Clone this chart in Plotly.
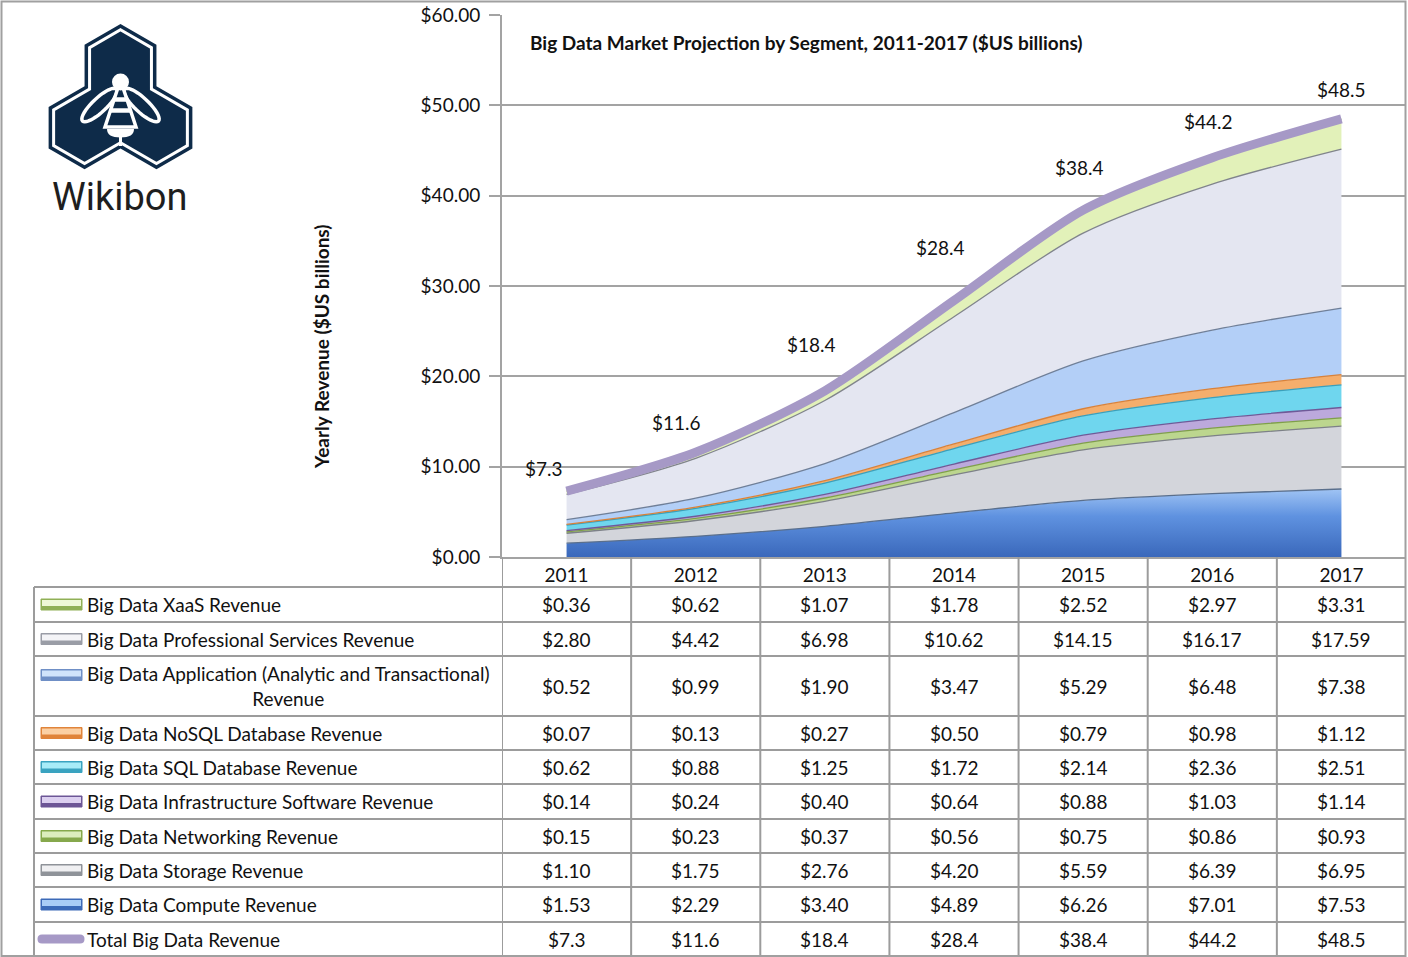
import numpy as np
import plotly.graph_objects as go

W, H = 1408, 957

# ---------------- data ----------------
years = ["2011", "2012", "2013", "2014", "2015", "2016", "2017"]

compute = [1.53, 2.29, 3.40, 4.89, 6.26, 7.01, 7.53]
storage = [1.10, 1.75, 2.76, 4.20, 5.59, 6.39, 6.95]
networking = [0.15, 0.23, 0.37, 0.56, 0.75, 0.86, 0.93]
infra_software = [0.14, 0.24, 0.40, 0.64, 0.88, 1.03, 1.14]
sql_db = [0.62, 0.88, 1.25, 1.72, 2.14, 2.36, 2.51]
nosql_db = [0.07, 0.13, 0.27, 0.50, 0.79, 0.98, 1.12]
application = [0.52, 0.99, 1.90, 3.47, 5.29, 6.48, 7.38]
prof_services = [2.80, 4.42, 6.98, 10.62, 14.15, 16.17, 17.59]
xaas = [0.36, 0.62, 1.07, 1.78, 2.52, 2.97, 3.31]
total = [7.3, 11.6, 18.4, 28.4, 38.4, 44.2, 48.5]

name_compute = "Big Data Compute Revenue"
name_storage = "Big Data Storage Revenue"
name_networking = "Big Data Networking Revenue"
name_infra = "Big Data Infrastructure Software Revenue"
name_sql = "Big Data SQL Database Revenue"
name_nosql = "Big Data NoSQL Database Revenue"
name_app = "Big Data Application (Analytic and Transactional)<br>Revenue"
name_prof = "Big Data Professional Services Revenue"
name_xaas = "Big Data XaaS Revenue"
name_total = "Total Big Data Revenue"

title_text = "Big Data Market Projection by Segment, 2011-2017 (&#36;US billions)"
ytitle_text = "Yearly Revenue (&#36;US billions)"
y_ticks = [0, 10, 20, 30, 40, 50, 60]
DOLLAR = "&#36;"

# ---------------- styles ----------------
FONT = "Lato"
FS = 19
TXT = "#111111"
GRID = "#a3a3a3"
NAVY = "#0e2b49"
TOTAL_COL = "#a699c6"

# (name, values, fill, edge, swatch light, swatch dark)
stack = [
    (name_compute, compute, "#5f92e0", "#5a6f8c", "#a9cdf6", "#3c6bb8"),
    (name_storage, storage, "#d3d5db", "#7d8188", "#f0f0f2", "#8f9399"),
    (name_networking, networking, "#bcd68e", "#7f9f4a", "#dcedbd", "#86a84c"),
    (name_infra, infra_software, "#bca9dc", "#6f5a98", "#dcd0f0", "#6d5696"),
    (name_sql, sql_db, "#6fd6ee", "#3b9fba", "#a8ecf8", "#3aa3c0"),
    (name_nosql, nosql_db, "#f5ae6c", "#d9823a", "#fbd0a4", "#e0843a"),
    (name_app, application, "#b3cff7", "#6f7f98", "#d0e3fb", "#6f8fc6"),
    (name_prof, prof_services, "#e4e6f1", "#80848c", "#f4f4f7", "#9a9da6"),
    (name_xaas, xaas, "#e2f1b9", "#8ea856", "#eef8d6", "#90b056"),
]

# plot-area geometry in pixels
PX0, PX1 = 502, 1406
PY0, PY1 = 15, 557


def px(x):
    return x / W


def py(y):
    return 1 - y / H


fig = go.Figure()

for i, (name, vals, fill, edge, _, _) in enumerate(stack):
    kw = {}
    if i == 0:
        kw["fillgradient"] = dict(type="vertical",
                                  colorscale=[[0, "#3a68bb"], [0.6, "#5f92e0"], [1, "#a0c4f4"]])
    fig.add_trace(go.Scatter(
        x=years, y=vals, name=name.replace("<br>", " "), stackgroup="seg",
        mode="lines", line=dict(shape="spline", smoothing=0.8, width=1.3, color=edge),
        fillcolor=fill, hoverinfo="skip", showlegend=False, **kw,
    ))

fig.add_trace(go.Scatter(
    x=years, y=total, name=name_total, mode="lines",
    line=dict(shape="spline", smoothing=0.8, width=9, color=TOTAL_COL),
    hoverinfo="skip", showlegend=False,
))

shapes = []
annotations = []

# total labels (offsets are styling); category axis positions are serial indexes
label_offsets = [(-23, 23), (-19, 30), (-13, 46), (-14, 53), (-4, 43), (-4, 36), (0, 29)]
for j, (v, (dx, dy)) in enumerate(zip(total, label_offsets)):
    annotations.append(dict(x=j, y=v, xref="x", yref="y", text=f"{DOLLAR}{v:.1f}",
                            showarrow=False, xshift=dx, yshift=dy, xanchor="center",
                            yanchor="middle", font=dict(family=FONT, size=FS, color=TXT)))

# chart title & y title
annotations.append(dict(x=px(528), y=py(43), xref="paper", yref="paper", xanchor="left",
                        yanchor="middle", showarrow=False, text=f"<b>{title_text}</b>",
                        font=dict(family=FONT, size=FS, color=TXT)))
annotations.append(dict(x=px(322), y=py(347), xref="paper", yref="paper", textangle=-90,
                        xanchor="center", yanchor="middle", showarrow=False,
                        text=f"<b>{ytitle_text}</b>", font=dict(family=FONT, size=FS, color=TXT)))

# ---------------- data table ----------------
row_edges = [587, 622, 656, 716, 750, 784, 819, 853, 887, 922, 956]
table_rows = list(reversed(stack))  # XaaS at top ... Compute at bottom
LINE = dict(color="#9c9c9c", width=2)

for ye in row_edges:
    shapes.append(dict(type="line", xref="paper", yref="paper", x0=px(34), x1=px(PX1),
                       y0=py(ye), y1=py(ye), line=LINE, layer="above"))
shapes.append(dict(type="line", xref="paper", yref="paper", x0=px(34), x1=px(34),
                   y0=py(587), y1=py(956), line=LINE, layer="above"))
for k in range(len(years) + 1):
    shapes.append(dict(type="line", xref="x", yref="paper", x0=k - 0.5, x1=k - 0.5,
                       y0=py(PY1), y1=py(956), line=LINE, layer="above"))

for r, (name, vals, fill, edge, sl, sd) in enumerate(table_rows):
    top, bot = row_edges[r], row_edges[r + 1]
    cy = (top + bot) / 2
    two_line = "<br>" in name
    sw_y = top + 19 if two_line else cy
    shapes.append(dict(type="rect", xref="paper", yref="paper", x0=px(41), x1=px(82),
                       y0=py(sw_y - 5.5), y1=py(sw_y + 5.5), fillcolor=sd,
                       line=dict(color=sd, width=1), layer="above"))
    shapes.append(dict(type="rect", xref="paper", yref="paper", x0=px(42), x1=px(81),
                       y0=py(sw_y - 4.5), y1=py(sw_y + 1.5), fillcolor=sl,
                       line=dict(width=0), layer="above"))
    annotations.append(dict(x=px(85), y=py(cy), xref="paper", yref="paper", xanchor="left",
                            yanchor="middle", align="center", showarrow=False, text=name,
                            font=dict(family=FONT, size=FS, color=TXT)))
    for j, v in enumerate(vals):
        annotations.append(dict(x=j, y=py(cy), xref="x", yref="paper", showarrow=False,
                                xanchor="center", yanchor="middle",
                                text=f"{DOLLAR}{v:.2f}", font=dict(family=FONT, size=FS, color=TXT)))

# total row
top, bot = row_edges[-2], row_edges[-1]
cy = (top + bot) / 2
shapes.append(dict(
    type="path", xref="paper", yref="paper", fillcolor=TOTAL_COL, line=dict(width=0), layer="above",
    path=(f"M {px(42)},{py(cy-4.5)} L {px(80)},{py(cy-4.5)} "
          f"Q {px(84.5)},{py(cy-4.5)} {px(84.5)},{py(cy)} Q {px(84.5)},{py(cy+4.5)} {px(80)},{py(cy+4.5)} "
          f"L {px(42)},{py(cy+4.5)} Q {px(37.5)},{py(cy+4.5)} {px(37.5)},{py(cy)} "
          f"Q {px(37.5)},{py(cy-4.5)} {px(42)},{py(cy-4.5)} Z")))
annotations.append(dict(x=px(85), y=py(cy), xref="paper", yref="paper", xanchor="left",
                        yanchor="middle", showarrow=False, text=name_total,
                        font=dict(family=FONT, size=FS, color=TXT)))
for j, v in enumerate(total):
    annotations.append(dict(x=j, y=py(cy), xref="x", yref="paper", showarrow=False,
                            xanchor="center", yanchor="middle",
                            text=f"{DOLLAR}{v:.1f}", font=dict(family=FONT, size=FS, color=TXT)))

# outer frame
shapes.append(dict(type="rect", xref="paper", yref="paper", x0=px(1.5), x1=px(1405.5),
                   y0=py(1.5), y1=py(956), line=dict(color="#a0a0a0", width=2), layer="above"))

# ---------------- logo ----------------
def path_from(pts, close=True):
    s = "M " + " L ".join(f"{px(x):.5f},{py(y):.5f}" for x, y in pts)
    return s + (" Z" if close else "")


def offset_polygon(pts, d):
    pts = np.array(pts, float)
    n = len(pts)
    area = 0.5 * np.sum(pts[:, 0] * np.roll(pts[:, 1], -1) - np.roll(pts[:, 0], -1) * pts[:, 1])
    sign = 1 if area > 0 else -1
    lines = []
    for i in range(n):
        p, q = pts[i], pts[(i + 1) % n]
        dv = (q - p) / np.linalg.norm(q - p)
        nrm = sign * np.array([-dv[1], dv[0]])
        lines.append((p + nrm * d, dv))
    out = []
    for i in range(n):
        (p1, d1), (p2, d2) = lines[i - 1], lines[i]
        A = np.array([d1, -d2]).T
        t, _ = np.linalg.solve(A, p2 - p1)
        out.append(tuple(p1 + t * d1))
    return out


cx, R = 120.5, 41.5
cy0 = 24 + R
s = R * np.sqrt(3) / 2
honey = [(cx, cy0 - R), (cx + s, cy0 - R / 2), (cx + s, cy0 + R / 2), (cx + 2 * s, cy0 + R),
         (cx + 2 * s, cy0 + 2 * R), (cx + s, cy0 + 2.5 * R), (cx, cy0 + 2 * R),
         (cx - s, cy0 + 2.5 * R), (cx - 2 * s, cy0 + 2 * R), (cx - 2 * s, cy0 + R),
         (cx - s, cy0 + R / 2), (cx - s, cy0 - R / 2)]
shapes.append(dict(type="path", xref="paper", yref="paper", path=path_from(honey),
                   fillcolor=NAVY, line=dict(width=0), layer="above"))
inner = offset_polygon(honey, 5)
shapes.append(dict(type="path", xref="paper", yref="paper", path=path_from(inner),
                   fillcolor="rgba(0,0,0,0)", line=dict(color="white", width=3), layer="above"))


def ellipse(c, tip, b, n=40):
    c = np.array(c, float)
    u = np.array(tip, float) - c
    a = np.linalg.norm(u)
    u /= a
    v = np.array([-u[1], u[0]])
    t = np.linspace(0, 2 * np.pi, n, endpoint=False)
    return [tuple(c + a * np.cos(tt) * u + b * np.sin(tt) * v) for tt in t]


for sgn in (-1, 1):
    wing = ellipse((cx + sgn * 21, 105), (cx + sgn * 38, 121), 7)
    shapes.append(dict(type="path", xref="paper", yref="paper", path=path_from(wing),
                       fillcolor=NAVY, line=dict(color="white", width=3.5), layer="above"))

body = [(cx, 80), (cx + 15.5, 127), (cx - 15.5, 127)]
shapes.append(dict(type="path", xref="paper", yref="paper", path=path_from(body),
                   fillcolor=NAVY, line=dict(color="white", width=3.5), layer="above"))
for yy, hw in ((99.5, 6.5), (110.5, 10.0)):
    shapes.append(dict(type="line", xref="paper", yref="paper", x0=px(cx - hw), x1=px(cx + hw),
                       y0=py(yy), y1=py(yy), line=dict(color="white", width=4.5), layer="above"))
shapes.append(dict(type="circle", xref="paper", yref="paper", x0=px(cx - 8.5), x1=px(cx + 8.5),
                   y0=py(82 - 8.5), y1=py(82 + 8.5), fillcolor="white", line=dict(width=0),
                   layer="above"))
shapes.append(dict(type="path", xref="paper", yref="paper", fillcolor="white",
                   line=dict(width=0), layer="above",
                   path=(f"M {px(cx-13.5)},{py(129)} L {px(cx+13.5)},{py(129)} "
                         f"Q {px(cx+13.5)},{py(137.5)} {px(cx)},{py(137.5)} "
                         f"Q {px(cx-13.5)},{py(137.5)} {px(cx-13.5)},{py(129)} Z")))
shapes.append(dict(type="line", xref="paper", yref="paper", x0=px(cx), x1=px(cx),
                   y0=py(136), y1=py(146), line=dict(color="white", width=3), layer="above"))

annotations.append(dict(x=px(120), y=py(197), xref="paper", yref="paper", showarrow=False,
                        xanchor="center", yanchor="middle",
                        text="Wikibon", font=dict(family="Roboto", size=38, color="#1e1e1e")))

# ---------------- layout ----------------
fig.update_layout(
    width=W, height=H, margin=dict(l=0, r=0, t=0, b=0, autoexpand=False),
    paper_bgcolor="white", plot_bgcolor="white",
    font=dict(family=FONT, size=FS, color=TXT),
    showlegend=False,
    xaxis=dict(domain=[px(PX0), px(PX1)], type="category", range=[-0.5, 6.5],
               showgrid=False, zeroline=False, showline=True, linecolor=GRID, linewidth=2,
               ticks="", ticklabelstandoff=0, tickfont=dict(family=FONT, size=FS, color=TXT),
               automargin=False, fixedrange=True),
    yaxis=dict(domain=[py(PY1), py(PY0)], range=[0, 60], tickmode="array", tickvals=y_ticks,
               ticktext=[f"{DOLLAR}{v:.2f}" for v in y_ticks],
               showgrid=True, gridcolor=GRID, gridwidth=1.5, zeroline=False,
               showline=True, linecolor=GRID, linewidth=2, ticks="outside", ticklen=11,
               tickcolor=GRID, tickwidth=1.5, ticklabelstandoff=5,
               tickfont=dict(family=FONT, size=FS, color=TXT), automargin=False, fixedrange=True),
    shapes=shapes, annotations=annotations,
)

fig.write_html("out.html", config={"displayModeBar": False},
               post_script="document.body.style.margin='0px';")
